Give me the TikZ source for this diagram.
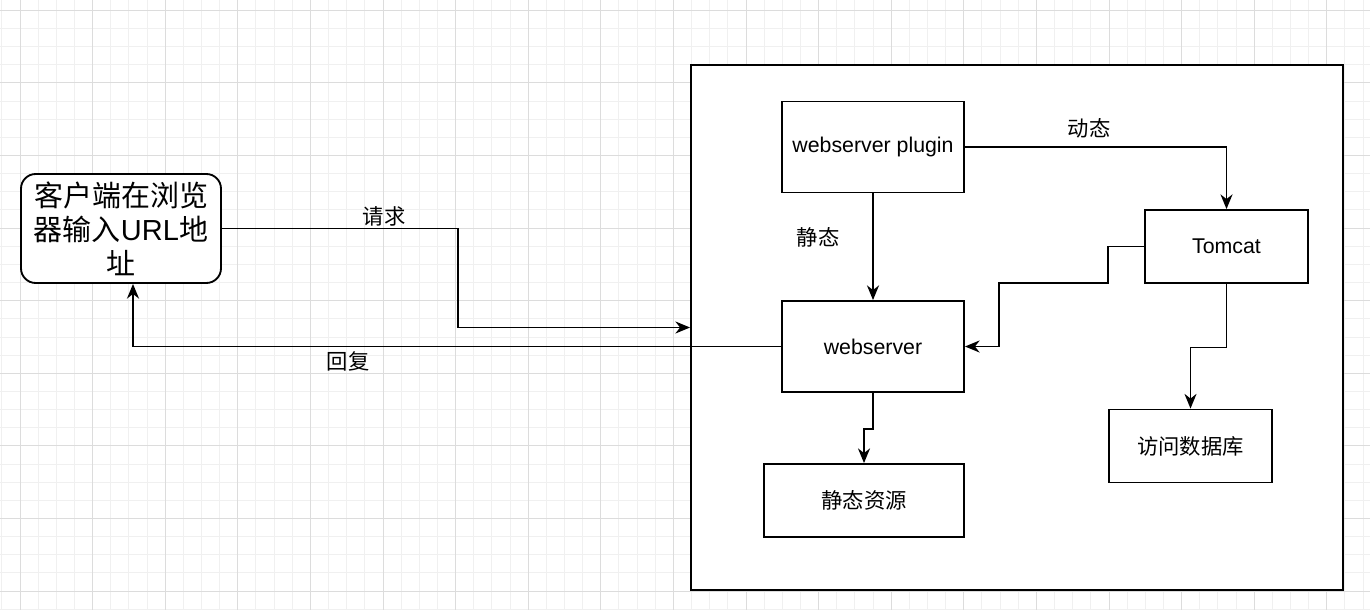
\documentclass[tikz,border=0pt]{standalone}
\usepackage{fontspec}
\setmainfont{Liberation Sans}
\newfontfamily\cjk{Noto Sans CJK SC}
\usetikzlibrary{arrows.meta}
\pgfdeclarelayer{bg}
\pgfsetlayers{bg,main}
\definecolor{gridminor}{HTML}{F0F0F0}
\definecolor{gridmajor}{HTML}{DCDCDC}
\tikzset{
    box/.style={rectangle, draw, fill=white, line width=1.4pt, inner sep=0mm, font=\fontsize{16}{19}\selectfont},
    lbl/.style={inner sep=0mm, font=\fontsize{16}{19}\selectfont\cjk}
}
\tikzset{conn/.style={line width=1.4pt, -{Stealth[length=11pt, width=9pt, inset=3.5pt]}}}

\begin{document}
\begin{tikzpicture}[x=0.75pt, y=-0.75pt]
        \useasboundingbox (0,0) rectangle (1370,610);
        \begin{pgfonlayer}{bg}
                \fill[white] (0,0) rectangle (1370,610);
                \foreach \i in {-1,...,74}
                        \draw[gridminor, line width=0.75pt] ({20+18.15*\i},0) -- ({20+18.15*\i},610);
                \foreach \j in {0,...,33}
                        \draw[gridminor, line width=0.75pt] (0,{10.3+18.15*\j}) -- (1370,{10.3+18.15*\j});
                \foreach \i in {0,...,18}
                        \draw[gridmajor, line width=0.75pt] ({20+72.6*\i},0) -- ({20+72.6*\i},610);
                \foreach \j in {0,...,8}
                        \draw[gridmajor, line width=0.75pt] (0,{10.3+72.6*\j}) -- (1370,{10.3+72.6*\j});
        \end{pgfonlayer}
        \node (server) [box, minimum width=489pt, minimum height=393.75pt] at (1017,327.5) {};
        \node (client) [box, rounded corners=11pt, minimum width=150pt, minimum height=81.75pt, align=center, font=\fontsize{21.75}{25.5}\selectfont] at (121,228.5) {{\cjk 客户端在浏览}\\{\cjk 器输入}URL{\cjk 地}\\{\cjk 址}};
        \node (plugin) [box, minimum width=136.5pt, minimum height=68.25pt] at (873,147) {webserver plugin};
        \node (websrv) [box, minimum width=136.5pt, minimum height=68.25pt] at (873,346.5) {webserver};
        \node (static) [box, minimum width=150pt, minimum height=54.75pt] at (864,500.5) {\cjk 静态资源};
        \node (tomcat) [box, minimum width=122.25pt, minimum height=54.75pt] at (1226.5,246.5) {Tomcat};
        \node (db) [box, minimum width=122.25pt, minimum height=54.75pt] at (1190.5,446) {\cjk 访问数据库};
        \node (lreq) [lbl] at (384,216) {请求};
        \node (lrep) [lbl] at (348,361) {回复};
        \node (lsta) [lbl] at (818,237) {静态};
        \node (ldyn) [lbl] at (1089,128) {动态};
        \draw [conn] (client.east) -- ++(236,0) |- (server.west);
        \draw [conn] (websrv.west) -| ([xshift=9pt]client.south);
        \draw [conn] (plugin) -- (websrv);
        \draw [conn] (plugin.east) -| (tomcat.north);
        \draw [conn] (tomcat.west) -- ++(-36,0) |- ++(-109,36.5) |- (websrv.east);
        \draw [conn] (tomcat.south) -- ++(0,63.5) -| (db.north);
        \draw [conn] (websrv.south) -- ++(0,36) -| (static.north);
\end{tikzpicture}
\end{document}
